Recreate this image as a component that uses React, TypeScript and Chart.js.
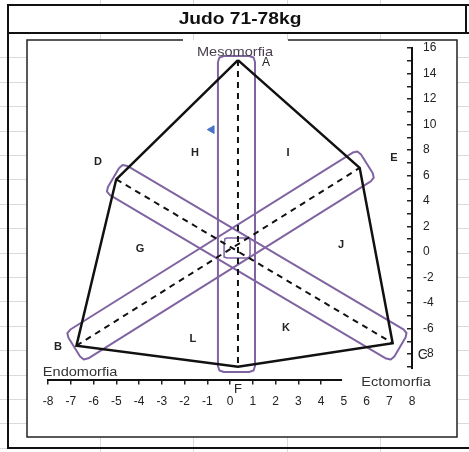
import React, { useEffect, useRef } from 'react';
import { Chart, registerables } from 'chart.js';

Chart.register(...registerables);

// ---------- data ----------
const TITLE = 'Judo 71-78kg';
const X_MIN = -8;
const X_MAX = 8;
const Y_MIN = -10;
const Y_MAX = 16;

// somatochart outline: A, E, C, F, B, D
const outlineX = [0.35, 5.7, 7.15, 0.35, -6.75, -5.0, 0.35];
const outlineY = [15.05, 6.6, -7.15, -9.0, -7.35, 5.7, 15.05];

// dashed axes
const mesoAxisX = [0.35, 0.35];
const mesoAxisY = [15.05, -9.0];
const dcAxisX = [-5.0, 7.15];
const dcAxisY = [5.7, -7.15];
const beAxisX = [-6.75, 5.7];
const beAxisY = [-7.35, 6.6];

// purple bands around each axis (corners)
const bandMesoX = [-0.53, 1.1, 1.1, -0.53];
const bandMesoY = [15.37, 15.37, -9.41, -9.41];
const bandDCX = [-4.74, 7.85, 7.09, -5.5];
const bandDCY = [6.99, -6.31, -8.6, 4.7];
const bandBEX = [-7.24, 5.62, 6.41, -6.45];
const bandBEY = [-6.33, 8.05, 5.79, -8.59];
const centreBoxX = [-0.26, 0.88, 0.88, -0.26];
const centreBoxY = [1.1, 1.1, -0.47, -0.47];

// athlete somatopoint
const athleteX = [-0.8];
const athleteY = [9.6];

// letter labels
const cornerLabels = ['A', 'B', 'C', 'D', 'E', 'F'];
const cornerLabelX = [1.58, -7.56, 8.48, -5.8, 7.21, 0.35];
const cornerLabelY = [14.82, -7.45, -8.08, 7.06, 7.37, -10.8];
const zoneLabels = ['H', 'I', 'G', 'J', 'L', 'K'];
const zoneLabelX = [-1.54, 2.55, -3.96, 4.88, -1.63, 2.46];
const zoneLabelY = [7.76, 7.76, 0.24, 0.55, -6.82, -5.96];
const axisNames = ['Mesomorfia', 'Endomorfia', 'Ectomorfia'];
const axisNameX = [0.22, -6.59, 7.3];
const axisNameY = [15.69, -9.41, -10.2];

// ---------- helpers ----------
const FONT = '"Liberation Sans", Arial, sans-serif';
const W = 469;
const H = 452;

const pts = (xs: number[], ys: number[]) => xs.map((x, i) => ({ x, y: ys[i] }));

// closed outline with softened (rounded-looking) corners
function roundedLoop(xs: number[], ys: number[], r: number) {
  const KX = 22.75; // approx px per x unit
  const KY = 12.75; // approx px per y unit
  const n = xs.length;
  const out: { x: number; y: number }[] = [];
  for (let i = 0; i < n; i++) {
    const p = { x: xs[i] * KX, y: ys[i] * KY };
    const a = { x: xs[(i + n - 1) % n] * KX, y: ys[(i + n - 1) % n] * KY };
    const b = { x: xs[(i + 1) % n] * KX, y: ys[(i + 1) % n] * KY };
    const la = Math.hypot(a.x - p.x, a.y - p.y);
    const lb = Math.hypot(b.x - p.x, b.y - p.y);
    const ra = Math.min(r, la / 3);
    const rb = Math.min(r, lb / 3);
    const p1 = { x: p.x + ((a.x - p.x) * ra) / la, y: p.y + ((a.y - p.y) * ra) / la };
    const p2 = { x: p.x + ((b.x - p.x) * rb) / lb, y: p.y + ((b.y - p.y) * rb) / lb };
    const mid = { x: (p1.x + p2.x) / 2 * 0.5 + p.x * 0.5, y: (p1.y + p2.y) / 2 * 0.5 + p.y * 0.5 };
    out.push(p1, mid, p2);
  }
  out.push(out[0]);
  return out.map((q) => ({ x: q.x / KX, y: q.y / KY }));
}

function txt(
  ctx: CanvasRenderingContext2D,
  s: string,
  x: number,
  y: number,
  font: string,
  color: string,
  sx = 1
) {
  ctx.save();
  ctx.translate(x, y);
  ctx.scale(sx, 1);
  ctx.font = font;
  ctx.fillStyle = color;
  ctx.textAlign = 'center';
  ctx.textBaseline = 'middle';
  ctx.fillText(s, 0, 0);
  ctx.restore();
}

const framePlugin = {
  id: 'frame',
  beforeDraw(chart: any) {
    const ctx: CanvasRenderingContext2D = chart.ctx;
    ctx.save();
    ctx.fillStyle = '#fff';
    ctx.fillRect(0, 0, W, H);
    // faint spreadsheet cell lines in the margins
    ctx.strokeStyle = '#dadada';
    ctx.lineWidth = 1;
    for (let k = 1; k < 18; k++) {
      const y = Math.round(33 + 24.4 * k) + 0.5;
      ctx.beginPath();
      ctx.moveTo(0, y);
      ctx.lineTo(27, y);
      ctx.moveTo(457, y);
      ctx.lineTo(W, y);
      ctx.stroke();
    }
    [100, 193, 287, 380].forEach((x) => {
      ctx.beginPath();
      ctx.moveTo(x + 0.5, 0);
      ctx.lineTo(x + 0.5, 5);
      ctx.moveTo(x + 0.5, 33);
      ctx.lineTo(x + 0.5, 40);
      ctx.moveTo(x + 0.5, 437);
      ctx.lineTo(x + 0.5, H);
      ctx.stroke();
    });
    // outer cell frame
    ctx.strokeStyle = '#111';
    ctx.lineWidth = 2;
    ctx.beginPath();
    ctx.moveTo(8, 5);
    ctx.lineTo(W, 5);
    ctx.moveTo(8, 33);
    ctx.lineTo(W, 33);
    ctx.moveTo(8, 4);
    ctx.lineTo(8, 449);
    ctx.moveTo(8, 448);
    ctx.lineTo(W, 448);
    ctx.moveTo(466, 4);
    ctx.lineTo(466, 34);
    ctx.stroke();
    // chart object border (gap behind the Mesomorfia text box)
    ctx.strokeStyle = '#222';
    ctx.lineWidth = 1.5;
    ctx.beginPath();
    ctx.moveTo(183, 40);
    ctx.lineTo(27, 40);
    ctx.lineTo(27, 437);
    ctx.lineTo(457, 437);
    ctx.lineTo(457, 40);
    ctx.lineTo(288, 40);
    ctx.stroke();
    ctx.restore();
    txt(ctx, TITLE, 240, 20, `bold 16px ${FONT}`, '#111', 1.2);
  },
  afterDraw(chart: any) {
    const ctx: CanvasRenderingContext2D = chart.ctx;
    const xs = chart.scales.x;
    const ys = chart.scales.y;
    const px = (v: number) => xs.getPixelForValue(v);
    const py = (v: number) => ys.getPixelForValue(v);
    zoneLabels.forEach((l, i) => {
      txt(ctx, l, px(zoneLabelX[i]), py(zoneLabelY[i]), `bold 11px ${FONT}`, '#222');
    });
    cornerLabels.forEach((l, i) => {
      let font = `bold 11px ${FONT}`;
      if (l === 'A') font = `12px ${FONT}`;
      if (l === 'C') font = `14px ${FONT}`;
      if (l === 'F') font = `13px ${FONT}`;
      txt(ctx, l, px(cornerLabelX[i]), py(cornerLabelY[i]), font, '#222');
    });
    axisNames.forEach((n, i) => {
      const x = px(axisNameX[i]);
      const y = py(axisNameY[i]);
      if (n === 'Ectomorfia') {
        ctx.save();
        ctx.fillStyle = '#fff';
        ctx.fillRect(x - 54, y - 13, 105, 24);
        ctx.restore();
      }
      txt(ctx, n, x, y, `13px ${FONT}`, n === 'Mesomorfia' ? '#4a4050' : '#333', 1.12);
    });
  },
};

export default function App() {
  const ref = useRef<HTMLCanvasElement>(null);

  useEffect(() => {
    const prevMargin = document.body.style.margin;
    document.body.style.margin = '0';
    const tickFont = { family: FONT, size: 12 };
    const lineDs = (data: { x: number; y: number }[], extra: any) => ({
      data,
      showLine: true,
      fill: false,
      pointRadius: 0,
      pointHoverRadius: 0,
      ...extra,
    });
    const purple = { borderColor: '#8064A2', borderWidth: 2, borderJoinStyle: 'round', order: 3 };
    const dashed = { borderColor: '#111', borderWidth: 2, borderDash: [6, 5], order: 2 };

    const chart = new Chart(ref.current as HTMLCanvasElement, {
      type: 'scatter',
      data: {
        datasets: [
          {
            label: TITLE,
            data: pts(athleteX, athleteY),
            pointStyle: 'triangle',
            rotation: -90,
            pointRadius: 4.5,
            backgroundColor: '#4a74c9',
            borderColor: '#4a74c9',
            showLine: false,
            order: 0,
          } as any,
          lineDs(pts(outlineX, outlineY), { borderColor: '#111', borderWidth: 2.5, order: 1 }),
          lineDs(pts(mesoAxisX, mesoAxisY), dashed),
          lineDs(pts(dcAxisX, dcAxisY), dashed),
          lineDs(pts(beAxisX, beAxisY), dashed),
          lineDs(roundedLoop(bandMesoX, bandMesoY, 6), purple),
          lineDs(roundedLoop(bandDCX, bandDCY, 6), purple),
          lineDs(roundedLoop(bandBEX, bandBEY, 6), purple),
          lineDs(roundedLoop(centreBoxX, centreBoxY, 3), { ...purple, borderWidth: 1.5 }),
        ],
      },
      options: {
        responsive: false,
        animation: false,
        devicePixelRatio: 1,
        events: [],
        layout: { padding: { left: 48, top: 48, right: 0, bottom: 0 } },
        plugins: { legend: { display: false }, tooltip: { enabled: false } },
        scales: {
          x: {
            type: 'linear',
            position: 'bottom',
            min: X_MIN,
            max: X_MAX,
            afterFit: (s: any) => {
              s.height = 72.5;
            },
            ticks: {
              stepSize: 1,
              autoSkip: false,
              maxRotation: 0,
              padding: 10,
              color: '#222',
              font: tickFont,
              callback: (v: any) => String(v),
            },
            grid: { drawOnChartArea: false, drawTicks: true, tickLength: 5, color: '#222', lineWidth: 1.5 },
            border: { display: true, color: '#111', width: 2 },
          },
          y: {
            type: 'linear',
            position: 'right',
            min: Y_MIN,
            max: Y_MAX,
            afterFit: (s: any) => {
              s.width = 57;
            },
            ticks: {
              stepSize: 1,
              autoSkip: false,
              padding: 16,
              color: '#222',
              font: tickFont,
              callback: (v: any) => (Number(v) % 2 === 0 ? String(v) : ''),
            },
            grid: { drawOnChartArea: false, drawTicks: true, tickLength: -5, color: '#222', lineWidth: 1.5 },
            border: { display: true, color: '#111', width: 2 },
          },
        },
      } as any,
      plugins: [framePlugin],
    });
    return () => {
      chart.destroy();
      document.body.style.margin = prevMargin;
    };
  }, []);

  return (
    <div style={{ position: 'absolute', left: 0, top: 0, width: W, height: H }}>
      <canvas ref={ref} width={W} height={H} style={{ display: 'block', width: W, height: H }} />
    </div>
  );
}
